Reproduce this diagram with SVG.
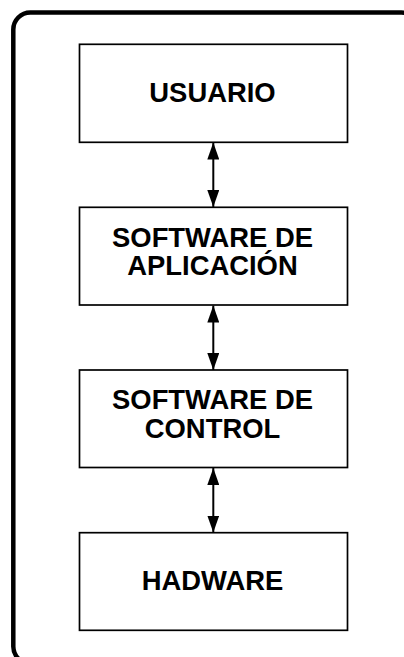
<svg xmlns="http://www.w3.org/2000/svg" width="404" height="657" viewBox="0 0 404 657">
<style>
.frame{fill:none;stroke:#000;stroke-width:4.5}
.box{fill:#fff;stroke:#000;stroke-width:1.7}
.lbl{font-family:"Liberation Sans",Arial,sans-serif;font-weight:bold;font-size:27.4px;text-anchor:middle;fill:#000}
.conn{stroke:#000;stroke-width:2;fill:none;marker-start:url(#ah);marker-end:url(#ah)}
</style>
<defs>
<marker id="ah" viewBox="0 0 17 12" refX="17" refY="6" markerWidth="17" markerHeight="12" markerUnits="userSpaceOnUse" orient="auto-start-reverse">
<path d="M0,0 L17,6 L0,12 Z" fill="#000"/>
</marker>
</defs>
<rect class="frame" x="13.3" y="12.5" width="405" height="651" rx="17" ry="17"/>
<g id="connectors">
<line class="conn" x1="213.3" y1="142.5" x2="213.3" y2="207"/>
<line class="conn" x1="213.3" y1="305.5" x2="213.3" y2="370"/>
<line class="conn" x1="213.3" y1="468" x2="213.3" y2="532.5"/>
</g>
<g id="usuario">
<rect class="box" x="79.5" y="44.3" width="268" height="98"/>
<text class="lbl" x="212.5" y="102.3">USUARIO</text>
</g>
<g id="software-aplicacion">
<rect class="box" x="79.5" y="207.3" width="268" height="97.7"/>
<text class="lbl" x="212.5" y="247">SOFTWARE DE</text>
<text class="lbl" x="212.5" y="275.2">APLICACIÓN</text>
</g>
<g id="software-control">
<rect class="box" x="79.5" y="370" width="268" height="97.5"/>
<text class="lbl" x="212.5" y="409.4">SOFTWARE DE</text>
<text class="lbl" x="212.5" y="437.6">CONTROL</text>
</g>
<g id="hadware">
<rect class="box" x="79.5" y="532.7" width="268" height="97.6"/>
<text class="lbl" x="212.5" y="590">HADWARE</text>
</g>
</svg>
